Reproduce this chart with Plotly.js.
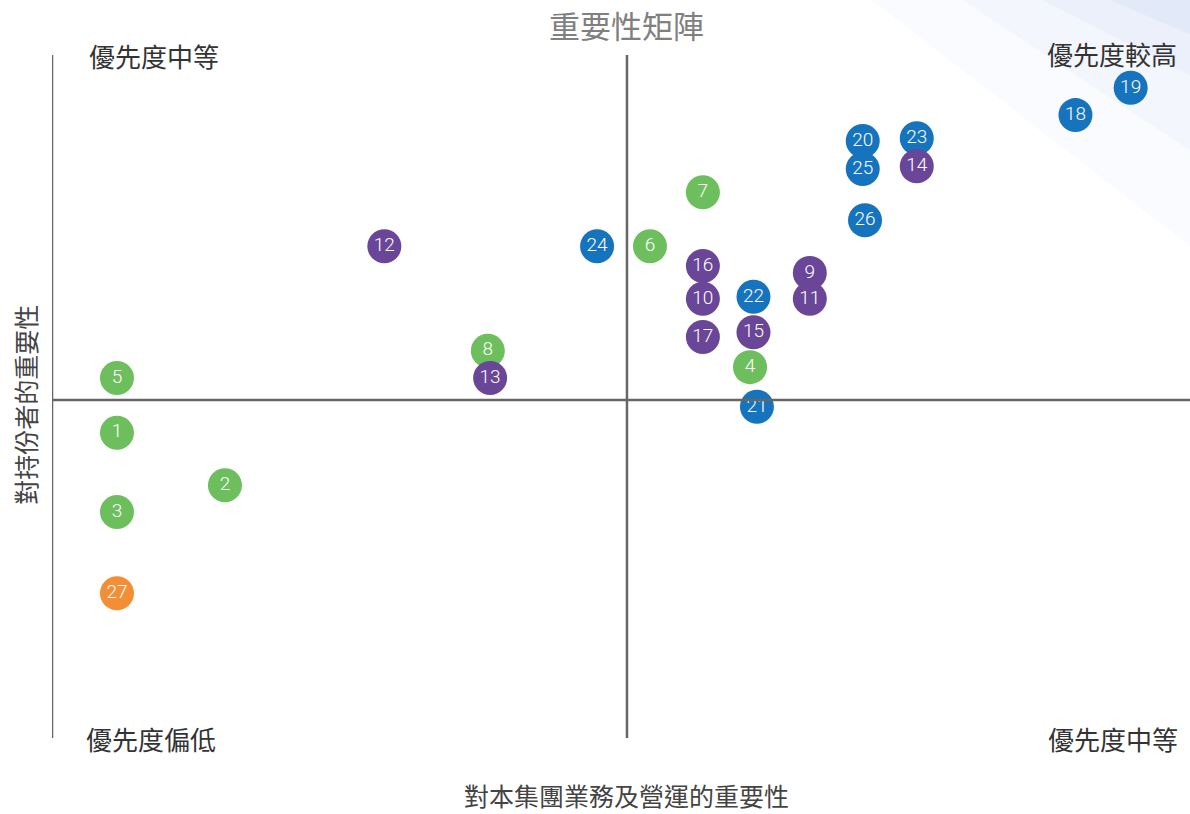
<!DOCTYPE html>
<html>
<head>
<meta charset="utf-8">
<script src="https://cdn.plot.ly/plotly-3.0.1.min.js"></script>
<style>html,body{margin:0;padding:0;background:#fff;}#chart{width:1190px;height:814px;}</style>
</head>
<body>
<div id="chart"></div>
<script>
// Data
const greenIds = ['1','2','3','4','5','6','7','8'];
const greenX   = [0.565, 1.504, 0.565, 6.07, 0.565, 5.20, 5.66, 3.79];
const greenY   = [4.47, 3.70, 3.31, 5.43, 5.27, 7.20, 7.99, 5.67];

const purpleIds = ['9','10','11','12','13','14','15','16','17'];
const purpleX   = [6.59, 5.66, 6.59, 2.89, 3.81, 7.52, 6.10, 5.66, 5.66];
const purpleY   = [6.81, 6.43, 6.43, 7.20, 5.27, 8.37, 5.94, 6.91, 5.87];

const blueIds = ['18','19','20','21','22','23','24','25','26'];
const blueX   = [8.90, 9.38, 7.05, 6.13, 6.10, 7.52, 4.74, 7.05, 7.07];
const blueY   = [9.12, 9.52, 8.74, 4.85, 6.46, 8.78, 7.20, 8.33, 7.58];

const orangeIds = ['27'];
const orangeX   = [0.565];
const orangeY   = [2.12];

const xDivider = 5.0;
const yDivider = 4.95;

const quadrantLabels = ['優先度中等', '優先度較高', '優先度偏低', '優先度中等'];
const chartTitle = '重要性矩陣';
const xTitle = '對本集團業務及營運的重要性';
const yTitle = '對持份者的重要性';

function series(ids, xs, ys, color) {
  return {
    type: 'scatter', mode: 'markers+text',
    x: xs, y: ys, text: ids,
    textposition: 'middle center',
    textfont: {family: 'Roboto, Liberation Sans, sans-serif', size: 19, color: '#ffffff', weight: 300},
    marker: {size: 34, color: color, line: {width: 0}},
    hoverinfo: 'skip', cliponaxis: false, showlegend: false
  };
}

const traces = [
  series(greenIds, greenX, greenY, '#6cbf5c'),
  series(blueIds, blueX, blueY, '#1574bd'),
  series(purpleIds, purpleX, purpleY, '#6a4699'),
  series(orangeIds, orangeX, orangeY, '#f28f36')
];

const CJK = 'Noto Sans CJK TC, Noto Sans CJK SC, sans-serif';
const PT = 1.0805; // page top in paper units

const layout = {
  width: 1190, height: 814,
  margin: {l: 52, r: 0, t: 55, b: 76},
  paper_bgcolor: '#ffffff', plot_bgcolor: 'rgba(0,0,0,0)',
  xaxis: {range: [0, 9.896], showgrid: false, zeroline: false, showticklabels: false, ticks: '', showline: false, fixedrange: true},
  yaxis: {range: [0, 10], showgrid: false, zeroline: false, showticklabels: false, ticks: '', showline: false, fixedrange: true},
  shapes: [
    // faint decorative light rays in the top right corner
    {type: 'path', xref: 'paper', yref: 'paper', layer: 'below', line: {width: 0},
     fillcolor: 'rgba(215,225,245,0.12)',
     path: `M 0.72 ${PT} L 1.0 ${PT} L 1.0 0.72 Z`},
    {type: 'path', xref: 'paper', yref: 'paper', layer: 'below', line: {width: 0},
     fillcolor: 'rgba(205,218,242,0.14)',
     path: `M 0.80 ${PT} L 1.0 ${PT} L 1.0 0.86 Z`},
    {type: 'path', xref: 'paper', yref: 'paper', layer: 'below', line: {width: 0},
     fillcolor: 'rgba(195,210,240,0.16)',
     path: `M 0.87 ${PT} L 1.0 ${PT} L 1.0 0.97 Z`},
    {type: 'path', xref: 'paper', yref: 'paper', layer: 'below', line: {width: 0},
     fillcolor: 'rgba(190,205,238,0.18)',
     path: `M 0.93 ${PT} L 1.0 ${PT} L 1.0 1.03 Z`},
    // axes lines
    {type: 'line', xref: 'x', yref: 'paper', x0: 0, x1: 0, y0: 0, y1: 1, line: {color: '#666666', width: 2.5}},
    {type: 'line', xref: 'x', yref: 'paper', x0: xDivider, x1: xDivider, y0: 0, y1: 1, line: {color: '#666666', width: 2.5}},
    {type: 'line', xref: 'paper', yref: 'y', x0: 0, x1: 1, y0: yDivider, y1: yDivider, line: {color: '#666666', width: 2.5}}
  ],
  annotations: [
    {text: chartTitle, xref: 'paper', yref: 'paper', x: 0.505, y: 1.045, showarrow: false,
     xanchor: 'center', yanchor: 'middle', font: {family: CJK, size: 31, color: '#808080'}},
    {text: quadrantLabels[0], xref: 'paper', yref: 'paper', x: 0.031, y: 1.0, showarrow: false,
     xanchor: 'left', yanchor: 'middle', font: {family: CJK, size: 26, color: '#333333'}},
    {text: quadrantLabels[1], xref: 'paper', yref: 'paper', x: 0.990, y: 1.002, showarrow: false,
     xanchor: 'right', yanchor: 'middle', font: {family: CJK, size: 26, color: '#333333'}},
    {text: quadrantLabels[2], xref: 'paper', yref: 'paper', x: 0.028, y: 0.0, showarrow: false,
     xanchor: 'left', yanchor: 'middle', font: {family: CJK, size: 26, color: '#333333'}},
    {text: quadrantLabels[3], xref: 'paper', yref: 'paper', x: 0.991, y: 0.0, showarrow: false,
     xanchor: 'right', yanchor: 'middle', font: {family: CJK, size: 26, color: '#333333'}},
    {text: xTitle, xref: 'paper', yref: 'paper', x: 0.505, y: -0.084, showarrow: false,
     xanchor: 'center', yanchor: 'middle', font: {family: CJK, size: 25, color: '#444444'}},
    {text: yTitle, xref: 'paper', yref: 'paper', x: -0.0237, y: 0.488, showarrow: false, textangle: -90,
     xanchor: 'center', yanchor: 'middle', font: {family: CJK, size: 25, color: '#444444'}}
  ]
};

Plotly.newPlot('chart', traces, layout, {displayModeBar: false, staticPlot: true});
</script>
</body>
</html>
